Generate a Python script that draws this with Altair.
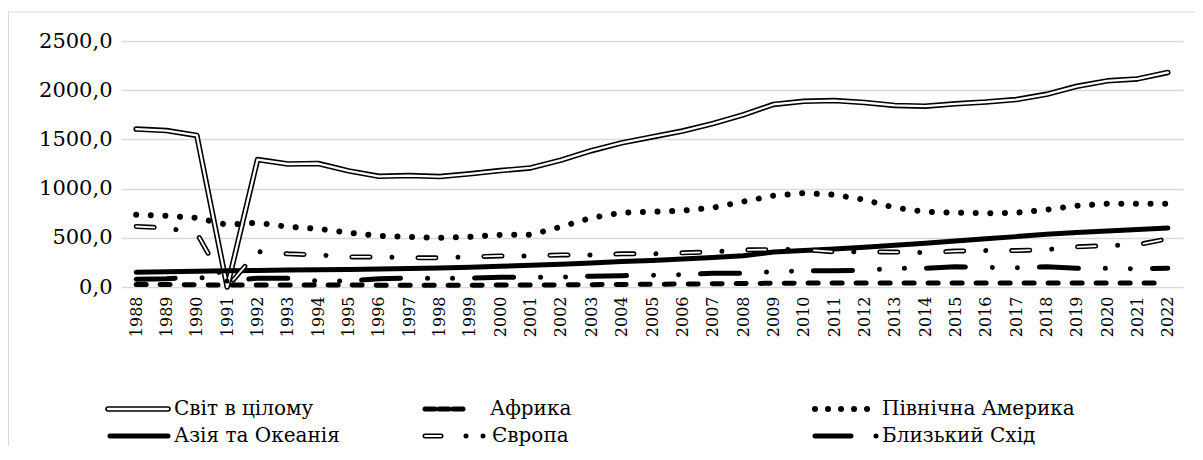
import altair as alt
import pandas as pd

years = [str(y) for y in range(1988, 2023)]

world = [1605, 1590, 1540, 0, 1295, 1250, 1255, 1180, 1125, 1132, 1122, 1150, 1183, 1210,
         1290, 1385, 1465, 1525, 1585, 1660, 1750, 1855, 1887, 1895, 1875, 1845, 1838,
         1862, 1880, 1905, 1958, 2040, 2095, 2115, 2180]
africa = [25, 25, 22, 20, 20, 20, 20, 20, 18, 18, 18, 18, 20, 20, 22, 24, 26, 28, 30, 32,
          35, 38, 40, 40, 40, 40, 40, 40, 40, 40, 40, 40, 40, 40, 40]
north_america = [734, 724, 703, 632, 653, 612, 592, 551, 520, 510, 500, 510, 530, 530, 612,
                 703, 755, 765, 775, 806, 867, 928, 955, 938, 887, 806, 765, 755, 750, 755,
                 785, 826, 847, 847, 845]
asia_oceania = [150, 155, 160, 165, 168, 172, 175, 178, 182, 188, 193, 200, 210, 220, 232,
                245, 258, 270, 285, 300, 318, 355, 370, 385, 405, 425, 445, 468, 490, 512,
                535, 555, 570, 585, 600]
europe = [615, 600, 545, 0, 360, 337, 326, 306, 306, 296, 297, 306, 316, 316, 326, 326,
          337, 337, 347, 357, 377, 380, 380, 357, 357, 355, 350, 365, 370, 370, 380, 408,
          420, 430, 490]
middle_east = [80, 85, 100, 60, 90, 90, 60, 60, 85, 90, 90, 90, 100, 100, 100, 110, 115,
               120, 125, 140, 140, 155, 165, 165, 170, 190, 190, 205, 200, 195, 205, 190,
               190, 185, 190]

names = ["Світ в цілому", "Африка", "Північна Америка",
         "Азія та Океанія", "Європа", "Близький Схід"]
series = [world, africa, north_america, asia_oceania, europe, middle_east]

rows = []
for name, vals in zip(names, series):
    for yr, v in zip(years, vals):
        rows.append({"year": yr, "region": name, "value": v})
df = pd.DataFrame(rows)

FONT = "DejaVu Serif"
W, H = 1062, 246

base = alt.Chart(df).encode(
    x=alt.X("year:O", sort=years,
            scale=alt.Scale(type="point", padding=0.5),
            axis=alt.Axis(title=None, labelAngle=270, labelFontSize=16, labelFont=FONT,
                          labelColor="black", domain=False, ticks=False, grid=False,
                          labelPadding=9)),
    y=alt.Y("value:Q", scale=alt.Scale(domain=[0, 2500]),
            axis=alt.Axis(title=None, values=[0, 500, 1000, 1500, 2000, 2500],
                          labelExpr="replace(format(datum.value, '.1f'), '.', ',')",
                          labelFontSize=21, labelFont=FONT, labelColor="black",
                          domain=False, ticks=False, tickSize=0, labelPadding=9,
                          grid=True, gridColor="#d9d9d9", gridWidth=1.5)),
)


def sel(name):
    return base.transform_filter(alt.datum.region == name)


lw = 5
layers = [
    sel(names[0]).mark_line(color="black", strokeWidth=5.5, strokeCap="round", strokeJoin="round"),
    sel(names[0]).mark_line(color="white", strokeWidth=2.3, strokeCap="round", strokeJoin="round"),
    sel(names[1]).mark_line(color="black", strokeWidth=lw, strokeCap="round", strokeDash=[10, 14]),
    sel(names[2]).mark_line(color="black", strokeWidth=6, strokeCap="round", strokeDash=[0.01, 14.6]),
    sel(names[3]).mark_line(color="black", strokeWidth=lw, strokeCap="round", strokeJoin="round"),
    sel(names[4]).mark_line(color="black", strokeWidth=lw, strokeCap="round", strokeDash=[18, 22, 0.01, 26]),
    sel(names[4]).mark_line(color="white", strokeWidth=1.8, strokeCap="round", strokeDash=[18, 48.01]),
    sel(names[5]).mark_line(color="black", strokeWidth=lw, strokeCap="round",
                            strokeDash=[39, 27, 0.01, 25, 0.01, 22]),
]

one = pd.DataFrame({"k": [0]})


def rule(x1, x2, y, **kw):
    return alt.Chart(one).mark_rule(**kw).encode(
        x=alt.value(x1), x2=alt.value(x2), y=alt.value(y))


def label(x, y, t):
    return alt.Chart(one).mark_text(align="left", baseline="middle", font=FONT,
                                    fontSize=20, color="black").encode(
        x=alt.value(x), y=alt.value(y), text=alt.value(t))


r1, r2 = 368, 395
c1, c2, c3 = -13, 302, 692
legend = [
    rule(c1, c1 + 60, r1, color="black", strokeWidth=5.5, strokeCap="round"),
    rule(c1, c1 + 60, r1, color="white", strokeWidth=2.3, strokeCap="round"),
    label(53, r1, names[0]),
    rule(c2 + 2, c2 + 40, r1, color="black", strokeWidth=lw, strokeCap="round", strokeDash=[10, 4]),
    label(369, r1, names[1]),
    rule(c3 + 2, c3 + 58, r1, color="black", strokeWidth=6, strokeCap="round", strokeDash=[0.01, 13]),
    label(761, r1, names[2]),
    rule(c1 + 2, c1 + 60, r2, color="black", strokeWidth=lw, strokeCap="round"),
    label(53, r2, names[3]),
    rule(c2 + 2, c2 + 66, r2, color="black", strokeWidth=lw, strokeCap="round",
         strokeDash=[16, 25, 0.01, 17, 0.01, 30]),
    rule(c2 + 2, c2 + 18, r2, color="white", strokeWidth=1.8, strokeCap="round"),
    label(371, r2, names[4]),
    rule(c3 + 2, c3 + 66, r2, color="black", strokeWidth=lw, strokeCap="round",
         strokeDash=[36, 25, 0.01, 30]),
    label(761, r2, names[5]),
]

frame = [
    rule(-113, W + 12, -29, color="#d9d9d9", strokeWidth=1),
    rule(-112.5, -112.5, -29, color="#d9d9d9", strokeWidth=1).encode(
        x=alt.value(-112.5), y=alt.value(-29), y2=alt.value(H + 200)),
]

chart = alt.layer(*frame, *layers, *legend).properties(
    width=W, height=H,
    padding={"left": 113, "top": 33, "right": 12, "bottom": 159},
    autosize=alt.AutoSizeParams(type="none"),
).configure_view(stroke=None)

chart.save("out.html", embed_options={"renderer": "svg", "actions": False})
